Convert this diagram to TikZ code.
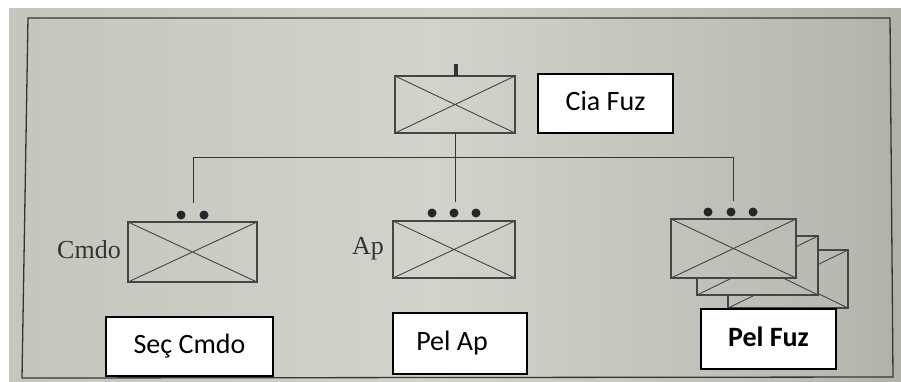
\documentclass[tikz,border=0pt]{standalone}
\usepackage{fontspec}
\setmainfont{Carlito}
\newfontfamily\seriffont{Liberation Serif}
\definecolor{bgA}{HTML}{8C8B85}
\definecolor{bgB}{HTML}{BDBDB4}
\definecolor{bgC}{HTML}{D2D3CA}
\definecolor{bgD}{HTML}{B8B8B0}
\definecolor{bgE}{HTML}{8E8D88}
\definecolor{bgF}{HTML}{5F5D5A}
\definecolor{symc}{HTML}{454545}
\definecolor{framec}{HTML}{353535}
\pgfdeclarehorizontalshading{photobg}{100bp}{color(0bp)=(bgA); color(10bp)=(bgB); color(49bp)=(bgC); color(72bp)=(bgD); color(89bp)=(bgE); color(100bp)=(bgF)}
\tikzset{
  sym/.style={draw=symc, line width=1.2pt, rectangle, inner sep=0pt,
    path picture={\draw[symc, line width=0.9pt]
      (path picture bounding box.north west) -- (path picture bounding box.south east)
      (path picture bounding box.south west) -- (path picture bounding box.north east);}},
  conn/.style={draw=framec, line width=0.8pt},
  dotnode/.style={circle, fill=black!85, inner sep=0pt, minimum size=9pt},
  ticknode/.style={rectangle, fill=black!80, inner sep=0pt, minimum width=4pt, minimum height=12pt},
  lbl/.style={draw=black, line width=1.5pt, fill=white, inner sep=0pt,
    text height=18pt, text depth=4pt, font=\fontsize{28}{32}\selectfont},
  serlbl/.style={inner sep=0pt, text=black!80, font=\seriffont\fontsize{26}{30}\selectfont}
}
\begin{document}
\begin{tikzpicture}[x=1pt,y=-1pt]
\useasboundingbox (0,0) rectangle (901,381);
\fill[white] (0,0) rectangle (901,381);
\shade[shading=photobg] (9,8) rectangle (901,381);
\draw[framec, line width=1.3pt] (28,18) -- (890,18) -- (893,377) -- (22,378) -- cycle;

% top unit
\node[sym, minimum width=120pt, minimum height=57pt] (cia) at (455,104.5) {};
\node[ticknode] (tk) at (456,70) {};
\node[lbl, minimum width=135pt, minimum height=59pt] (cialbl) at (605.5,103.5) {Cia Fuz};

% connectors
\coordinate (hl) at (193,157);
\coordinate (hr) at (733,157);
\coordinate (seqt) at (193,203);
\coordinate (apt) at (455,202);
\coordinate (pelt) at (733,201);
\draw[conn] (hl) -- (hr);
\draw[conn] (cia.south) -- (apt);
\draw[conn] (hl) -- (seqt);
\draw[conn] (hr) -- (pelt);

% Sec Cmdo
\node[dotnode] (s1) at (181,215) {};
\node[dotnode] (s2) at (204,215) {};
\node[sym, minimum width=129pt, minimum height=60pt] (sec) at (192.5,252) {};
\node[serlbl, anchor=base east] (cmdo) at (121,258) {Cmdo};

% Pel Ap
\node[dotnode] (a1) at (432,213) {};
\node[dotnode] (a2) at (454,213) {};
\node[dotnode] (a3) at (476,213) {};
\node[sym, minimum width=122pt, minimum height=57pt] (ap) at (454,249.5) {};
\node[serlbl, anchor=base east] (aplab) at (384,254) {Ap};

% Pel Fuz (stacked)
\begin{scope}[even odd rule]
  \clip (0,0) rectangle (901,381) (697,236) rectangle (818,295);
  \begin{scope}[even odd rule]
    \clip (0,0) rectangle (901,381) (671,219) rectangle (796,278);
    \node[sym, minimum width=120pt, minimum height=58pt, nonzero rule] (p3) at (788,279) {};
  \end{scope}
\end{scope}
\begin{scope}[even odd rule]
  \clip (0,0) rectangle (901,381) (671,219) rectangle (796,278);
  \node[sym, minimum width=121pt, minimum height=59pt, nonzero rule] (p2) at (757.5,265.5) {};
\end{scope}
\node[sym, minimum width=125pt, minimum height=59pt] (p1) at (733.5,248.5) {};
\node[dotnode] (f1) at (708,212) {};
\node[dotnode] (f2) at (731,212) {};
\node[dotnode] (f3) at (753,212) {};

% labels
\node[lbl, minimum width=167pt, minimum height=59pt] (seclbl) at (189.5,346.5) {Seç Cmdo};
\node[lbl, minimum width=134pt, minimum height=61pt] (aplbl) at (460,343.5) {Pel Ap\hspace*{16pt}};
\node[lbl, minimum width=135pt, minimum height=60pt, font=\bfseries\fontsize{28}{32}\selectfont] (pflbl) at (768.5,339) {Pel Fuz};
\end{tikzpicture}
\end{document}
